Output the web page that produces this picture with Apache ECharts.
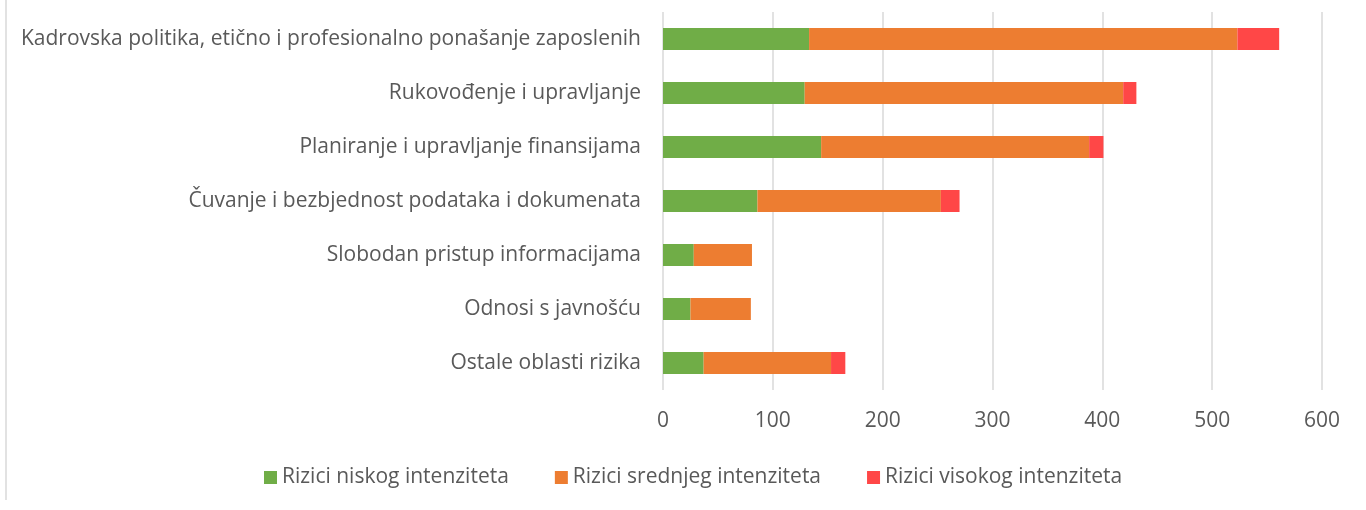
<!DOCTYPE html>
<html>
<head>
<meta charset="utf-8">
<script src="https://cdn.jsdelivr.net/npm/echarts@6/dist/echarts.min.js"></script>
<style>
  html, body { margin: 0; padding: 0; background: #fff; }
  #chart { width: 1366px; height: 510px; }
</style>
</head>
<body>
<div id="chart"></div>
<script>
// Risk areas, listed top to bottom
const categories = [
  'Kadrovska politika, etično i profesionalno ponašanje zaposlenih',
  'Rukovođenje i upravljanje',
  'Planiranje i upravljanje finansijama',
  'Čuvanje i bezbjednost podataka i dokumenata',
  'Slobodan pristup informacijama',
  'Odnosi s javnošću',
  'Ostale oblasti rizika'
];
const seriesNames = ['Rizici niskog intenziteta', 'Rizici srednjeg intenziteta', 'Rizici visokog intenziteta'];
const lowRisk = [133, 129, 144, 86, 28, 25, 37];
const mediumRisk = [390, 290, 244, 167, 53, 55, 116];
const highRisk = [38, 12, 13, 17, 0, 0, 13];
const xTicks = [0, 100, 200, 300, 400, 500, 600];

const FONT = 'Open Sans';
const TEXT = '#595959';
const colors = ['#70AD47', '#ED7D31', '#FF4747'];

const chart = echarts.init(document.getElementById('chart'), null, { renderer: 'canvas' });

function barSeries(name, data, color) {
  return {
    name: name,
    type: 'bar',
    stack: 'total',
    data: data,
    barWidth: 22,
    itemStyle: { color: color },
    emphasis: { disabled: true }
  };
}

chart.setOption({
  animation: false,
  color: colors,
  textStyle: { fontFamily: FONT },
  grid: { left: 663, right: 44, top: 12, bottom: 120, containLabel: false },
  xAxis: {
    type: 'value',
    min: xTicks[0],
    max: xTicks[xTicks.length - 1],
    interval: 100,
    axisLine: { show: false },
    axisTick: { show: false },
    splitLine: { show: true, lineStyle: { color: '#D9D9D9', width: 1.5 } },
    axisLabel: { color: TEXT, fontSize: 21, fontFamily: FONT, margin: 21 }
  },
  yAxis: {
    type: 'category',
    data: categories,
    inverse: true,
    axisLine: { show: false },
    axisTick: { show: false },
    axisLabel: { color: TEXT, fontSize: 21, fontFamily: FONT, margin: 22 }
  },
  legend: {
    data: seriesNames,
    top: 462,
    left: 259,
    icon: 'rect',
    itemWidth: 13,
    itemHeight: 13,
    itemGap: 46,
    textStyle: { color: TEXT, fontSize: 21, fontFamily: FONT },
    selectedMode: false
  },
  graphic: [{
    type: 'line',
    shape: { x1: 6, y1: 0, x2: 6, y2: 500 },
    style: { stroke: '#D9D9D9', lineWidth: 1.5 }
  }],
  series: [
    barSeries(seriesNames[0], lowRisk, colors[0]),
    barSeries(seriesNames[1], mediumRisk, colors[1]),
    barSeries(seriesNames[2], highRisk, colors[2])
  ]
});
</script>
</body>
</html>
